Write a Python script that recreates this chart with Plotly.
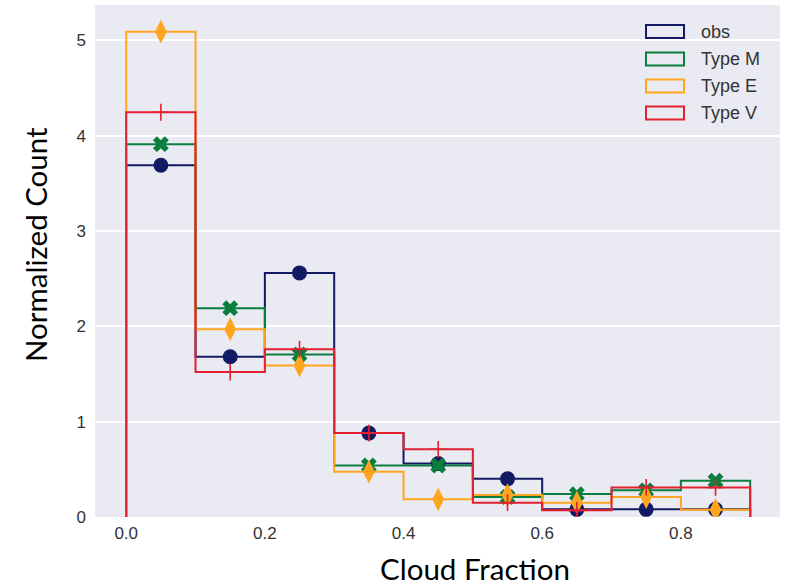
import plotly.graph_objects as go
import numpy as np

bin_edges = [0.0, 0.1, 0.2, 0.3, 0.4, 0.5, 0.6, 0.7, 0.8, 0.9]
series_names = ["obs", "Type M", "Type E", "Type V"]
obs = [3.69, 1.68, 2.56, 0.88, 0.56, 0.40, 0.08, 0.08, 0.08]
type_m = [3.91, 2.19, 1.705, 0.54, 0.54, 0.21, 0.24, 0.28, 0.38]
type_e = [5.09, 1.97, 1.59, 0.475, 0.185, 0.23, 0.15, 0.21, 0.075]
type_v = [4.245, 1.52, 1.76, 0.88, 0.71, 0.15, 0.07, 0.31, 0.31]

colors = ["#121a63", "#0b7d3e", "#ffa51f", "#e3202f"]
symbols = ["circle", "x", "diamond-tall", "cross-thin"]
msizes = [15, 14, 17, 12]

fig = go.Figure()
edges = np.array(bin_edges)
centers = (edges[:-1] + edges[1:]) / 2
for name, vals, col, sym, ms in zip(series_names, [obs, type_m, type_e, type_v], colors, symbols, msizes):
    xs = [edges[0]] + list(edges[:-1]) + [edges[-1], edges[-1]]
    ys = [0] + list(vals) + [vals[-1], 0]
    fig.add_trace(go.Scatter(x=xs, y=ys, mode="lines", line=dict(color=col, width=2, shape="hv"),
                             name=name, showlegend=False, hoverinfo="skip"))
    mk = dict(symbol=sym, size=ms, color=col)
    if sym == "cross-thin":
        mk["line"] = dict(color=col, width=1.6)
    else:
        mk["line"] = dict(width=0)
    fig.add_trace(go.Scatter(x=centers, y=vals, mode="markers", marker=mk, showlegend=False, name=name))

# manual legend (box outlines + labels) in paper coords
L, R, T, B = 95, 18, 5, 68
W, H = 798 - L - R, 585 - T - B
def px_x(p):
    return (p - L) / W
def px_y(p):
    return 1 - (p - T) / H
row_y = [31.5, 59, 86, 113]
for name, col, yc in zip(series_names, colors, row_y):
    fig.add_shape(type="rect", xref="paper", yref="paper",
                  x0=px_x(646), x1=px_x(684), y0=px_y(yc + 6.5), y1=px_y(yc - 6.5),
                  line=dict(color=col, width=2), fillcolor="rgba(0,0,0,0)")
    fig.add_annotation(xref="paper", yref="paper", x=px_x(699), y=px_y(yc), text=name,
                       showarrow=False, xanchor="left", yanchor="middle",
                       font=dict(family="Liberation Sans, Arial", size=18, color="#333333"))

# axis titles (offset as in the reference)
fig.add_annotation(xref="paper", yref="paper", x=px_x(475), y=px_y(568), text="Cloud Fraction",
                   showarrow=False, xanchor="center", yanchor="middle", height=28, valign="middle",
                   font=dict(family="Lato", size=29.5, color="black"))
fig.add_annotation(xref="paper", yref="paper", x=px_x(35), y=px_y(245), text="Normalized Count",
                   showarrow=False, xanchor="center", yanchor="middle", textangle=-90,
                   font=dict(family="Lato", size=29.5, color="black"))

fig.update_layout(
    width=798, height=585,
    margin=dict(l=L, r=R, t=T, b=B),
    paper_bgcolor="white", plot_bgcolor="#eaeaf2",
    showlegend=False,
    font=dict(family="Liberation Sans, Arial", size=17, color="#333333"),
)
fig.update_xaxes(range=[-0.045, 0.943], tickvals=[0, 0.2, 0.4, 0.6, 0.8],
                 ticktext=["0.0", "0.2", "0.4", "0.6", "0.8"], showgrid=False, zeroline=False,
                 ticks="", ticklabelstandoff=4)
fig.update_yaxes(range=[0, 5.37], tickvals=[0, 1, 2, 3, 4, 5], showgrid=True, gridcolor="white",
                 gridwidth=1.5, zeroline=False, ticks="", ticklabelstandoff=8)

fig.write_html("out.html")
